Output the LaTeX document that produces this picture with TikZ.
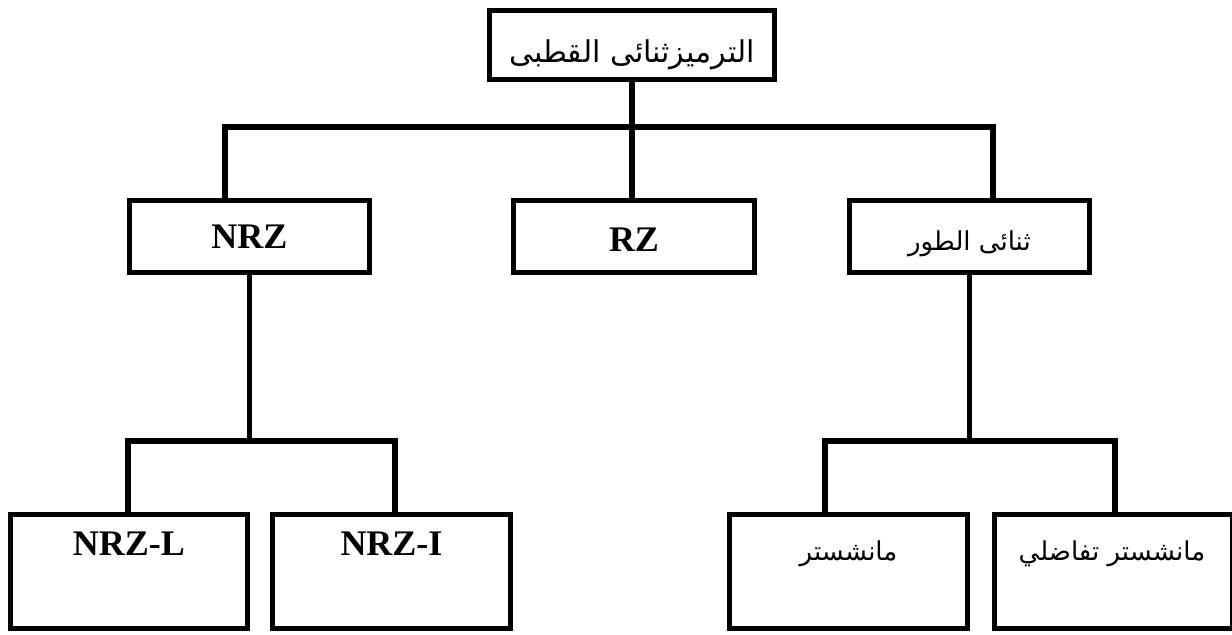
\documentclass[tikz,border=0pt]{standalone}
\usepackage{fontspec}
\setmainfont{Liberation Serif}
\newfontfamily\arabicfont[Script=Arabic]{DejaVu Sans}
\TeXXeTstate=1
\begin{document}
\begin{tikzpicture}[x=0.5pt,y=-0.5pt,
  box/.style={draw=black,line width=2.9pt,fill=white,inner sep=0pt},
  link/.style={draw=black,line width=2.9pt,line join=miter},
  lat/.style={font=\fontsize{18}{20}\selectfont\bfseries,inner sep=0pt},
  arb/.style={font=\arabicfont\fontsize{13}{15}\selectfont,inner sep=0pt}]
\useasboundingbox (0,0) rectangle (1232,634);
% boxes
\node[box,minimum width=142.5pt,minimum height=34.5pt] (top) at (632,45) {};
\node[box,minimum width=120pt,minimum height=36pt] (nrz) at (249.5,236.5) {};
\node[box,minimum width=120.5pt,minimum height=36pt] (rz) at (634,236.5) {};
\node[box,minimum width=120pt,minimum height=36pt] (bi) at (969.5,236.5) {};
\node[box,minimum width=118.5pt,minimum height=57pt] (nrzl) at (129,571.5) {};
\node[box,minimum width=119pt,minimum height=57pt] (nrzi) at (391.5,571.5) {};
\node[box,minimum width=119pt,minimum height=57pt] (man) at (848.5,571.5) {};
\node[box,minimum width=119pt,minimum height=57pt] (diff) at (1113.5,571.5) {};
% texts
\node[arb,font=\arabicfont\fontsize{15}{17}\selectfont] (topT) at (632,55) {\beginR الترميزثنائى القطبى\endR};
\node[lat] (nrzT) at (249.5,237) {NRZ};
\node[lat] (rzT) at (634,240) {RZ};
\node[arb] (biT) at (969.5,244) {\beginR ثنائى الطور\endR};
\node[lat] (nrzlT) at (129,544) {NRZ-L};
\node[lat] (nrziT) at (391.5,544) {NRZ-I};
\node[arb] (manT) at (848.5,554) {\beginR مانشستر\endR};
\node[arb] (diffT) at (1112,554) {\beginR مانشستر تفاضلي\endR};
% connectors
\coordinate (busL) at (225,127);
\coordinate (busR) at (993,127);
\coordinate (lbusL) at (128,441);
\coordinate (lbusR) at (395,441);
\coordinate (rbusL) at (825,441);
\coordinate (rbusR) at (1115,441);
\draw[link] (top.south) -- (top.south |- rz.north);
\draw[link] (busL |- nrz.north) -- (busL) -- (busR) -- (busR |- bi.north);
\draw[link] (nrz.south) -- (nrz.south |- lbusL);
\draw[link] (lbusL |- nrzl.north) -- (lbusL) -- (lbusR) -- (lbusR |- nrzi.north);
\draw[link] (bi.south) -- (bi.south |- rbusL);
\draw[link] (rbusL |- man.north) -- (rbusL) -- (rbusR) -- (rbusR |- diff.north);
\end{tikzpicture}
\end{document}
